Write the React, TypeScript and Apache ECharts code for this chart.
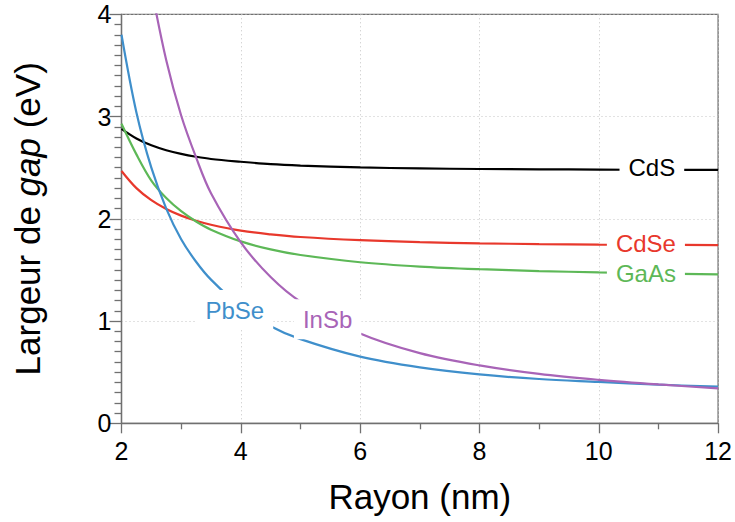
import React, { useEffect, useRef } from "react";
import * as echarts from "echarts";

// Radius (nm)
const radius = [2, 2.25, 2.5, 2.75, 3, 3.25, 3.5, 4, 4.5, 5, 6, 7, 8, 9, 10, 11, 12];
// Band gap (eV)
const cdS = [2.88, 2.786, 2.719, 2.671, 2.635, 2.607, 2.585, 2.558, 2.535, 2.521, 2.502, 2.493, 2.487, 2.484, 2.481, 2.479, 2.478];
const cdSe = [2.468, 2.3, 2.182, 2.096, 2.031, 1.981, 1.942, 1.884, 1.848, 1.822, 1.791, 1.771, 1.76, 1.753, 1.748, 1.745, 1.743];
const gaAs = [2.93, 2.63, 2.374, 2.203, 2.074, 1.974, 1.894, 1.779, 1.701, 1.646, 1.575, 1.533, 1.507, 1.489, 1.476, 1.466, 1.456];
const pbSe = [3.8, 3.04, 2.5, 2.1, 1.8, 1.58, 1.405, 1.14, 0.95, 0.823, 0.652, 0.547, 0.478, 0.433, 0.405, 0.378, 0.358];
const inSb = [null, null, 4.26, 3.55, 3.01, 2.6, 2.25, 1.77, 1.43, 1.19, 0.878, 0.686, 0.566, 0.483, 0.425, 0.38, 0.342];

const materials = ["CdS", "CdSe", "GaAs", "PbSe", "InSb"];
const values = [cdS, cdSe, gaAs, pbSe, inSb];
const colors = ["#000000", "#e8382c", "#5db857", "#3f8fcb", "#a864b7"];
// where each curve label sits (data coordinates)
const labelX = [10.89, 10.79, 10.79, 3.9, 5.455];
const labelY = [2.502, 1.76, 1.463, 1.108, 1.018];

const xTicks = [2, 12, 2];
const yTicks = [0, 4, 1];

const FONT = "'Liberation Sans', Arial, Helvetica, sans-serif";
const AXIS_GRAY = "#707070";

export default function App() {
  const ref = useRef<HTMLDivElement>(null);
  useEffect(() => {
    if (!ref.current) return;
    const chart = echarts.init(ref.current, null, { renderer: "svg" });
    const lineSeries = materials.map((m, i) => ({
      type: "line",
      name: m,
      data: radius.map((r, j) => [r, values[i][j]]),
      smooth: 0.35,
      showSymbol: false,
      symbol: "none",
      connectNulls: false,
      clip: true,
      lineStyle: { color: colors[i], width: 2.2 },
      itemStyle: { color: colors[i] },
    }));
    chart.setOption({
      animation: false,
      textStyle: { fontFamily: FONT },
      grid: {
        left: 121.5,
        right: 15,
        top: 14.3,
        bottom: 98.7,
        show: true,
        borderColor: AXIS_GRAY,
        borderWidth: 1.3,
        backgroundColor: "transparent",
      },
      xAxis: {
        type: "value",
        min: xTicks[0],
        max: xTicks[1],
        interval: xTicks[2],
        name: "Rayon (nm)",
        nameLocation: "middle",
        nameGap: 56,
        nameTextStyle: { fontSize: 35, color: "#000", fontFamily: FONT },
        axisLine: { show: true, lineStyle: { color: AXIS_GRAY, width: 1.3 } },
        axisTick: { show: true, length: 10, lineStyle: { color: AXIS_GRAY, width: 1.3 } },
        minorTick: { show: true, splitNumber: 2, length: 6, lineStyle: { color: AXIS_GRAY, width: 1.3 } },
        axisLabel: { fontSize: 25, color: "#000", margin: 15, fontFamily: FONT },
        splitLine: { show: true, lineStyle: { color: "#c4c4c4", width: 1, type: [1, 3] } },
      },
      yAxis: {
        type: "value",
        min: yTicks[0],
        max: yTicks[1],
        interval: yTicks[2],
        name: "Largeur de {i|gap} (eV)",
        nameLocation: "middle",
        nameGap: 77,
        nameTextStyle: {
          fontSize: 35,
          color: "#000",
          fontFamily: FONT,
          rich: { i: { fontStyle: "italic", fontSize: 35, color: "#000", fontFamily: FONT } },
        },
        axisLine: { show: true, lineStyle: { color: AXIS_GRAY, width: 1.3 } },
        axisTick: { show: true, length: 12, lineStyle: { color: AXIS_GRAY, width: 1.3 } },
        minorTick: { show: true, splitNumber: 10, length: 7, lineStyle: { color: AXIS_GRAY, width: 1.3 } },
        axisLabel: { fontSize: 25, color: "#000", margin: 10, fontFamily: FONT },
        splitLine: { show: true, lineStyle: { color: "#c4c4c4", width: 1, type: [1, 3] } },
      },
      series: lineSeries,
    });
    const graphics = materials.map((m, i) => {
      const p = chart.convertToPixel({ gridIndex: 0 }, [labelX[i], labelY[i]]) as number[];
      return {
        type: "text",
        x: p[0],
        y: p[1],
        z: 100,
        silent: true,
        style: {
          text: m,
          fill: colors[i],
          font: `24px ${FONT}`,
          align: "center",
          verticalAlign: "middle",
          backgroundColor: "#ffffff",
          padding: [8, 9],
        },
      };
    });
    chart.setOption({ graphic: graphics });
    return () => chart.dispose();
  }, []);
  return (
    <div
      ref={ref}
      style={{ position: "absolute", left: 0, top: 0, width: 735, height: 522, background: "#fff" }}
    />
  );
}
